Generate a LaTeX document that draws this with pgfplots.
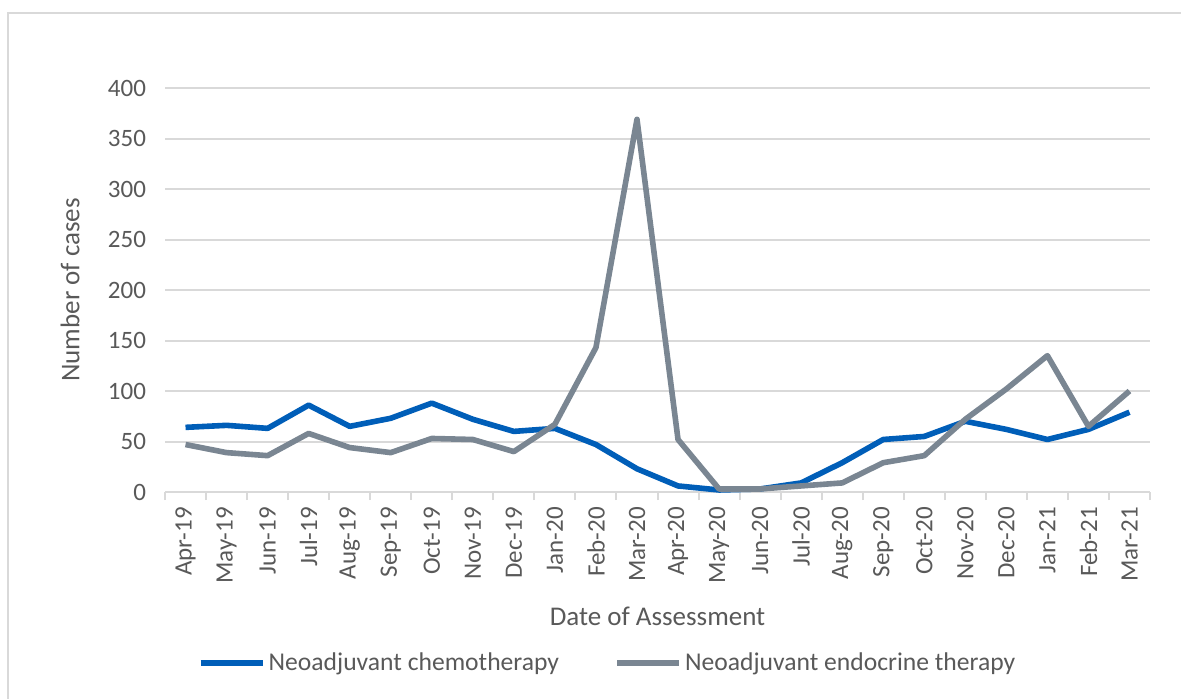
\documentclass[border=0pt]{standalone}
\usepackage{pgfplots}
\pgfplotsset{compat=1.18}
\usepackage{fontspec}
\setmainfont{Carlito}
\definecolor{chemo}{RGB}{0,94,184}
\definecolor{endo}{RGB}{122,134,146}
\definecolor{gridc}{RGB}{217,217,217}
\definecolor{txt}{RGB}{89,89,89}
\begin{document}
\begin{tikzpicture}
\path[use as bounding box] (0,0) rectangle (590.5pt,-349.5pt);
\draw[gridc, line width=1pt] (4pt,-349.5pt) -- (4pt,-6.5pt) -- (590.5pt,-6.5pt);
\begin{axis}[
  at={(82.5pt,-246pt)}, anchor=south west,
  scale only axis, width=492.5pt, height=202pt,
  xmin=-0.5, xmax=23.5, ymin=0, ymax=400,
  ytick={0,50,...,400},
  /pgf/number format/assume math mode=true,
  xtick={0,...,23},
  xticklabels={Apr-19,May-19,Jun-19,Jul-19,Aug-19,Sep-19,Oct-19,Nov-19,Dec-19,Jan-20,Feb-20,Mar-20,Apr-20,May-20,Jun-20,Jul-20,Aug-20,Sep-20,Oct-20,Nov-20,Dec-20,Jan-21,Feb-21,Mar-21},
  major x tick style={draw=none},
  ytick style={draw=none},
  extra x ticks={-0.5,0.5,...,23.5},
  extra x tick labels={},
  extra x tick style={major tick length=4pt, tick align=outside, xtick pos=lower, major x tick style={draw=gridc, line width=1pt}, grid=none},
  xtick pos=lower,
  axis line style={draw=none},
  ymajorgrids, grid style={gridc, line width=1pt},
  xticklabel style={rotate=90, anchor=east, font=\fontsize{12.5}{15}\selectfont, text=txt},
  yticklabel style={font=\fontsize{12.5}{15}\selectfont, text=txt},
  xticklabel shift=4pt,
  yticklabel shift=6pt,
  every axis y label/.style={at={(axis description cs:-0.0964,0.5)}, rotate=90, anchor=center, font=\fontsize{13.5}{16}\selectfont, text=txt},
  every axis x label/.style={at={(axis description cs:0.5,-0.309)}, anchor=center, font=\fontsize{13.5}{16}\selectfont, text=txt},
  ylabel={Number of cases},
  xlabel={Date of Assessment},
  legend style={at={(axis description cs:0.4497,-0.423)}, anchor=center, draw=none, fill=none, font=\fontsize{12.8}{15}\selectfont, text=txt, nodes={inner xsep=1.5pt}},
  legend columns=2,
  /tikz/every even column/.append style={column sep=26pt},
  legend image code/.code={\draw[#1, line width=3pt] (0pt,0pt) -- (31pt,0pt);},
  line join=round,
]
\addplot[chemo, line width=2.8pt, mark=none] coordinates {
(0,64) (1,66) (2,63) (3,86) (4,65) (5,73) (6,88) (7,72) (8,60) (9,63) (10,47) (11,23)
(12,6) (13,2) (14,3) (15,9) (16,29) (17,52) (18,55) (19,70) (20,62) (21,52) (22,62) (23,79)};
\addlegendentry{Neoadjuvant chemotherapy}
\addplot[endo, line width=2.8pt, mark=none] coordinates {
(0,47) (1,39) (2,36) (3,58) (4,44) (5,39) (6,53) (7,52) (8,40) (9,67) (10,143) (11,369)
(12,52) (13,3) (14,3) (15,6) (16,9) (17,29) (18,36) (19,72) (20,102) (21,135) (22,65) (23,100)};
\addlegendentry{Neoadjuvant endocrine therapy}
\end{axis}
\end{tikzpicture}
\end{document}
